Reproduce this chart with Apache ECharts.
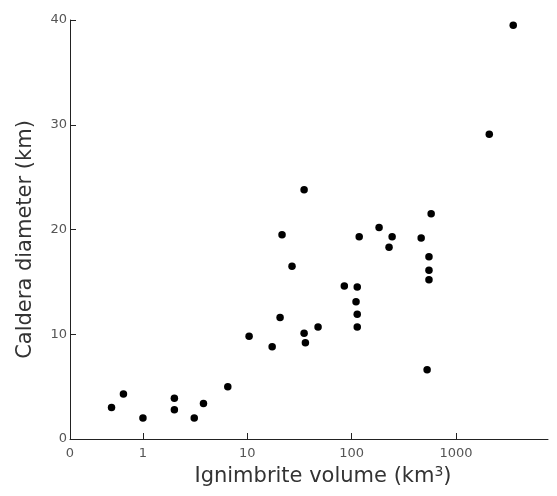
<!DOCTYPE html>
<html>
<head>
<meta charset="utf-8">
<script src="https://cdn.jsdelivr.net/npm/echarts@6/dist/echarts.min.js"></script>
<style>html,body{margin:0;padding:0;background:#fff}#c{width:557px;height:496px}</style>
</head>
<body>
<div id="c"></div>
<script>
// Ignimbrite volume (km^3)
const volume = [0.5, 0.65, 1.0, 2.0, 2.0, 3.1, 3.8, 6.5, 10.4, 17.3, 20.6, 21.5, 26.8, 35, 35, 36, 47.6, 85, 113, 110, 113, 113, 118, 183, 244, 228, 463, 577, 550, 550, 550, 528, 2080, 3530];
// Caldera diameter (km)
const diameter = [3.0, 4.3, 2.0, 3.9, 2.8, 2.0, 3.4, 5.0, 9.8, 8.8, 11.6, 19.5, 16.5, 23.8, 10.1, 9.2, 10.7, 14.6, 14.5, 13.1, 11.9, 10.7, 19.3, 20.2, 19.3, 18.3, 19.2, 21.5, 17.4, 16.1, 15.2, 6.6, 29.1, 39.5];
const xTickValues = [1, 10, 100, 1000];
const xLabelValues = [0.2, 1, 10, 100, 1000];
const xLabelText = ['0', '1', '10', '100', '1000'];

const points = volume.map((v, i) => [v, diameter[i]]);
const chart = echarts.init(document.getElementById('c'), null, {renderer: 'canvas'});
const font = 'DejaVu Sans';
chart.setOption({
  animation: false,
  backgroundColor: '#fff',
  grid: {left: 70, right: 9, top: 20, bottom: 57, containLabel: false},
  xAxis: {
    type: 'log', logBase: 10, min: 0.2, max: 7600,
    name: 'Ignimbrite volume (km{s|3})',
    nameLocation: 'middle', nameGap: 22,
    nameTextStyle: {fontFamily: font, fontSize: 21, color: '#333', padding: [0, 0, 0, 28],
      rich: {s: {fontSize: 14, verticalAlign: 'top', padding: [0, 0, 10, 0], color: '#333', fontFamily: font}}},
    axisLine: {show: true, onZero: false, lineStyle: {color: '#222', width: 1}},
    axisTick: {show: true, inside: true, length: 6, customValues: xTickValues, lineStyle: {color: '#222'}},
    axisLabel: {show: true, customValues: xLabelValues, showMinLabel: true, margin: 8, fontFamily: font, fontSize: 13, color: '#555',
      formatter: v => {
        const i = xLabelValues.findIndex(t => Math.abs(t - v) / t < 1e-6);
        return i >= 0 ? xLabelText[i] : '';
      }},
    splitLine: {show: false},
    minorTick: {show: false}
  },
  yAxis: {
    type: 'value', min: 0, max: 40, interval: 10,
    name: 'Caldera diameter (km)',
    nameLocation: 'middle', nameGap: 34,
    nameTextStyle: {fontFamily: font, fontSize: 21, color: '#333', padding: [0, 20, 0, 0]},
    axisLine: {show: true, lineStyle: {color: '#222', width: 1}},
    axisTick: {show: true, inside: true, length: 6, lineStyle: {color: '#222'}},
    axisLabel: {margin: 3, fontFamily: font, fontSize: 13, color: '#555'},
    splitLine: {show: false}
  },
  series: [{
    type: 'scatter',
    data: points,
    symbol: 'circle',
    symbolSize: 7.5,
    itemStyle: {color: '#000', opacity: 1}
  }]
});
</script>
</body>
</html>
